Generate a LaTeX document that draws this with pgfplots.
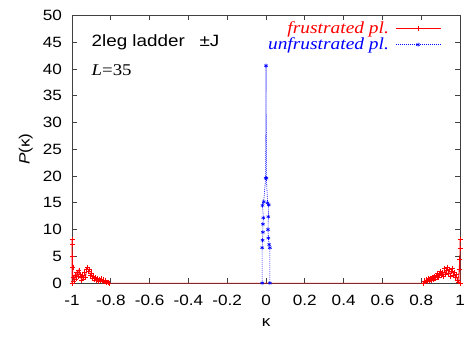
\documentclass[border=0pt]{standalone}
\usepackage{fontspec}
\setmainfont{Liberation Sans}[FakeStretch=1.15]
\newfontfamily\serifit{Liberation Serif}[FakeStretch=1.15]
\usepackage{pgfplots}
\pgfplotsset{compat=1.18}
\newcommand\tf{\fontsize{15}{17}\selectfont}
\newcommand\nf{\fontsize{16.5}{18}\selectfont}
\newcommand\lf{\fontsize{17}{17}\selectfont\serifit\itshape}
\begin{document}
\begin{tikzpicture}
\begin{axis}[
  scale only axis, width=390.5pt, height=269.4pt,
  at={(0,0)}, anchor=south west,
  xmin=-1, xmax=1, ymin=0, ymax=50,
  xtick={-1,-0.8,-0.6,-0.4,-0.2,0,0.2,0.4,0.6,0.8,1},
  ytick={0,5,10,15,20,25,30,35,40,45,50},
  /pgf/number format/assume math mode=true,
  /pgf/number format/fixed,
  tick align=inside, major tick length=5pt,
  axis line style={black!75, line width=0.7pt},
  every tick/.style={black!75, line width=0.7pt},
  tick label style={font=\tf},
  xticklabel style={inner sep=0pt, anchor=north, yshift=-12pt},
  yticklabel style={inner sep=0pt, anchor=east, xshift=-10pt},
  xlabel={\tf κ},
  ylabel={\tf \textit{P}(κ)},
  xlabel style={at={(axis description cs:0.5,-0.146)}, anchor=center},
  ylabel style={at={(axis description cs:-0.119,0.5)}, anchor=center},
  clip=false,
  legend plot pos=right,
  legend cell align=right,
  legend style={draw=none, fill=none, inner sep=0pt, at={(rel axis cs:0.952,0.985)}, anchor=north east, row sep=-1pt, font=\lf,
    /tikz/every odd column/.append style={column sep=5pt}},
]
\addplot[red, line width=0.6pt, mark=+, mark size=2.5pt, mark options={solid, line width=0.5pt},
  legend image code/.code={\draw[red, line width=0.6pt, mark=+, mark size=2.5pt, mark options={solid, line width=0.5pt}, mark repeat=2, mark phase=2] plot coordinates {(0pt,0pt) (22pt,0pt) (45pt,0pt)};}] coordinates {
(-1,0) (-1,8.2) (-1,7.2) (-0.998,5.0) (-0.996,3.0) (-0.995,1.0) (-0.99,0.3) (-0.985,1.5) (-0.98,0.8) (-0.975,2.0) (-0.97,1.2) (-0.965,2.4) (-0.96,1.6) (-0.955,1.0) (-0.95,0.5) (-0.945,1.4) (-0.94,0.8) (-0.935,2.0) (-0.93,1.0) (-0.925,2.5) (-0.92,2.9) (-0.915,2.2) (-0.91,2.6) (-0.905,1.4) (-0.9,1.9) (-0.895,0.9) (-0.89,1.3) (-0.885,0.6) (-0.88,1.1) (-0.875,0.5) (-0.87,0.9) (-0.865,0.3) (-0.86,0.7) (-0.855,0.4) (-0.85,0.8) (-0.845,0.3) (-0.84,0.6) (-0.835,0.2) (-0.83,0.4) (-0.825,0.1) (-0.82,0.2) (-0.815,0.05) (-0.81,0)
(0.81,0) (0.815,0.4) (0.82,0.2) (0.825,0.6) (0.83,0.3) (0.835,0.8) (0.84,0.4) (0.845,0.9) (0.85,0.5) (0.855,1.0) (0.86,0.6) (0.865,1.2) (0.87,0.8) (0.875,1.4) (0.88,1.0) (0.885,1.8) (0.89,1.1) (0.895,1.6) (0.9,2.2) (0.905,1.4) (0.91,2.0) (0.915,1.2) (0.92,2.7) (0.925,1.6) (0.93,2.4) (0.935,3.0) (0.94,1.8) (0.945,2.6) (0.95,1.2) (0.955,2.2) (0.96,2.8) (0.965,1.5) (0.97,2.0) (0.975,1.0) (0.98,1.6) (0.985,0.6) (0.99,0.2) (0.995,2.5) (0.998,4.5) (1,6.5) (1,8.1) (1,0)
};
\addlegendentry{\textcolor{red}{frustrated pl.}}
\addplot[blue, line width=0.6pt, dash pattern=on 1pt off 1pt, mark=asterisk, mark size=2pt, mark options={solid, line width=0.6pt},
  legend image code/.code={\draw[blue, line width=0.6pt, dash pattern=on 1pt off 1pt, mark=asterisk, mark size=2pt, mark options={solid, line width=0.6pt}, mark repeat=2, mark phase=2] plot coordinates {(0pt,0pt) (22pt,0pt) (45pt,0pt)};}] coordinates {
(-0.02,0) (-0.02,6.6) (-0.018,8.0) (-0.016,9.5) (-0.016,11) (-0.014,12.2) (-0.018,14.5) (-0.012,15.2) (-0.002,19.6) (0,40.6) (0.002,19.6) (0.008,15.0) (0.014,14.6) (0.012,12.4) (0.010,10.0) (0.012,8.4) (0.016,7.2) (0.02,6.6) (0.02,0)
};
\addlegendentry{\textcolor{blue}{unfrustrated pl.}}
\node[anchor=west, inner sep=0pt, font=\nf] at (rel axis cs:0.05,0.901) {2leg ladder\hspace{0.9em}±J};
\node[anchor=west, inner sep=0pt, font=\nf] at (rel axis cs:0.05,0.797) {{\serifit\itshape L}{\serifit =35}};
\end{axis}
\pgfresetboundingbox
\path[use as bounding box] (-72.5pt,-53.3pt) rectangle (396.5pt,284.9pt);
\end{tikzpicture}
\end{document}
